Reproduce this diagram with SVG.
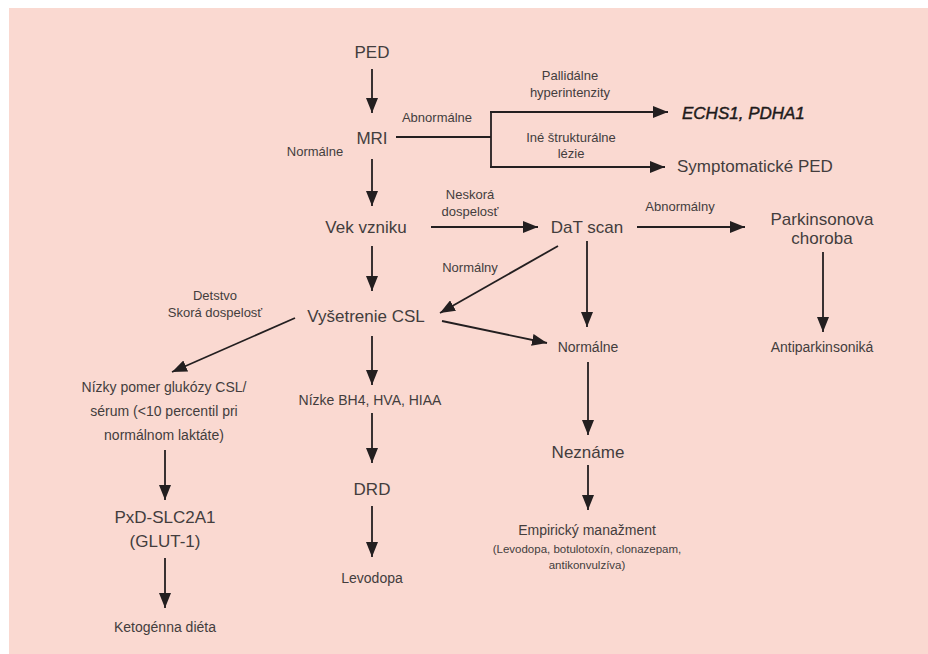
<svg xmlns="http://www.w3.org/2000/svg" width="928" height="654" viewBox="0 0 928 654">
<style>
text{font-family:"Liberation Sans",Arial,sans-serif;fill:#433d3d;text-anchor:middle}
.n{font-size:17px}
.m{font-size:14px}
.s{font-size:13px}
.xs{font-size:11.5px}
.st{text-anchor:start}
.it{font-style:italic;fill:#1e1b1b;stroke:#1e1b1b;stroke-width:0.45}
.c line,.c polyline{stroke:#231f20;stroke-width:1.8;fill:none}
.a{marker-end:url(#ah)}
</style>
<defs>
<marker id="ah" markerUnits="userSpaceOnUse" markerWidth="16" markerHeight="12" refX="15" refY="6" orient="auto" viewBox="0 0 16 12">
<path d="M0,0 L15,6 L0,12 z" fill="#231f20"/>
</marker>
</defs>
<rect x="9" y="8" width="919" height="646" fill="#fad9d1"/>
<g class="c" id="connectors">
<line class="a" x1="372" y1="69" x2="372" y2="113"/>
<polyline points="396,137 491,137"/>
<line x1="491" y1="112" x2="491" y2="167"/>
<line class="a" x1="490" y1="112" x2="668" y2="112"/>
<line class="a" x1="490" y1="167" x2="665" y2="167"/>
<line class="a" x1="372" y1="159" x2="372" y2="206"/>
<line class="a" x1="431" y1="227" x2="538" y2="227"/>
<line class="a" x1="637" y1="227" x2="745" y2="227"/>
<line class="a" x1="823" y1="252" x2="823" y2="332"/>
<line class="a" x1="587" y1="241" x2="587" y2="327"/>
<line class="a" x1="558" y1="246" x2="440" y2="313"/>
<line class="a" x1="372" y1="246" x2="372" y2="291"/>
<line class="a" x1="442" y1="321" x2="547" y2="343"/>
<line class="a" x1="295" y1="318" x2="172" y2="372"/>
<line class="a" x1="372" y1="336" x2="372" y2="385"/>
<line class="a" x1="372" y1="413" x2="372" y2="463"/>
<line class="a" x1="372" y1="506" x2="372" y2="557"/>
<line class="a" x1="588" y1="362" x2="588" y2="435"/>
<line class="a" x1="588" y1="465" x2="588" y2="510"/>
<line class="a" x1="165" y1="450" x2="165" y2="500"/>
<line class="a" x1="165" y1="558" x2="165" y2="608"/>
</g>
<g id="labels">
<text class="s" x="437" y="122">Abnormálne</text>
<text class="s" x="570" y="80">Pallidálne</text>
<text class="s" x="570" y="97">hyperintenzity</text>
<text class="s" x="571" y="142">Iné štrukturálne</text>
<text class="s" x="571" y="158">lézie</text>
<text class="s" x="315" y="156">Normálne</text>
<text class="s" x="470" y="199">Neskorá</text>
<text class="s" x="470" y="216">dospelosť</text>
<text class="s" x="680" y="211">Abnormálny</text>
<text class="s" x="470" y="272">Normálny</text>
<text class="s" x="215" y="300">Detstvo</text>
<text class="s" x="215" y="317">Skorá dospelosť</text>
</g>
<g id="n-ped"><text class="n" x="372" y="58">PED</text></g>
<g id="n-mri"><text class="n" x="372" y="144">MRI</text></g>
<g id="n-echs"><text class="n st it" x="682" y="119">ECHS1, PDHA1</text></g>
<g id="n-symp"><text class="n st" x="677" y="172">Symptomatické PED</text></g>
<g id="n-vek"><text class="n" x="366" y="233">Vek vzniku</text></g>
<g id="n-dat"><text class="n" x="587" y="233">DaT scan</text></g>
<g id="n-park"><text class="n" x="822" y="225">Parkinsonova</text><text class="n" x="822" y="244">choroba</text></g>
<g id="n-anti"><text class="m" x="822" y="352">Antiparkinsoniká</text></g>
<g id="n-csl"><text class="n" x="366" y="322">Vyšetrenie CSL</text></g>
<g id="n-norm"><text class="m" x="588" y="352">Normálne</text></g>
<g id="n-nezn"><text class="n" x="588" y="458">Neznáme</text></g>
<g id="n-emp"><text class="m" x="587" y="535">Empirický manažment</text><text class="xs" x="587" y="553">(Levodopa, botulotoxín, clonazepam,</text><text class="xs" x="587" y="569">antikonvulzíva)</text></g>
<g id="n-bh4"><text class="m" x="370" y="405">Nízke BH4, HVA, HIAA</text></g>
<g id="n-drd"><text class="n" x="372" y="495">DRD</text></g>
<g id="n-levo"><text class="m" x="372" y="583">Levodopa</text></g>
<g id="n-glu"><text class="m" x="164" y="392">Nízky pomer glukózy CSL/</text><text class="m" x="164" y="416">sérum (&lt;10 percentil pri</text><text class="m" x="164" y="440">normálnom laktáte)</text></g>
<g id="n-pxd"><text class="n" x="165" y="523">PxD-SLC2A1</text><text class="n" x="165" y="547">(GLUT-1)</text></g>
<g id="n-keto"><text class="m" x="165" y="632">Ketogénna diéta</text></g>
</svg>
